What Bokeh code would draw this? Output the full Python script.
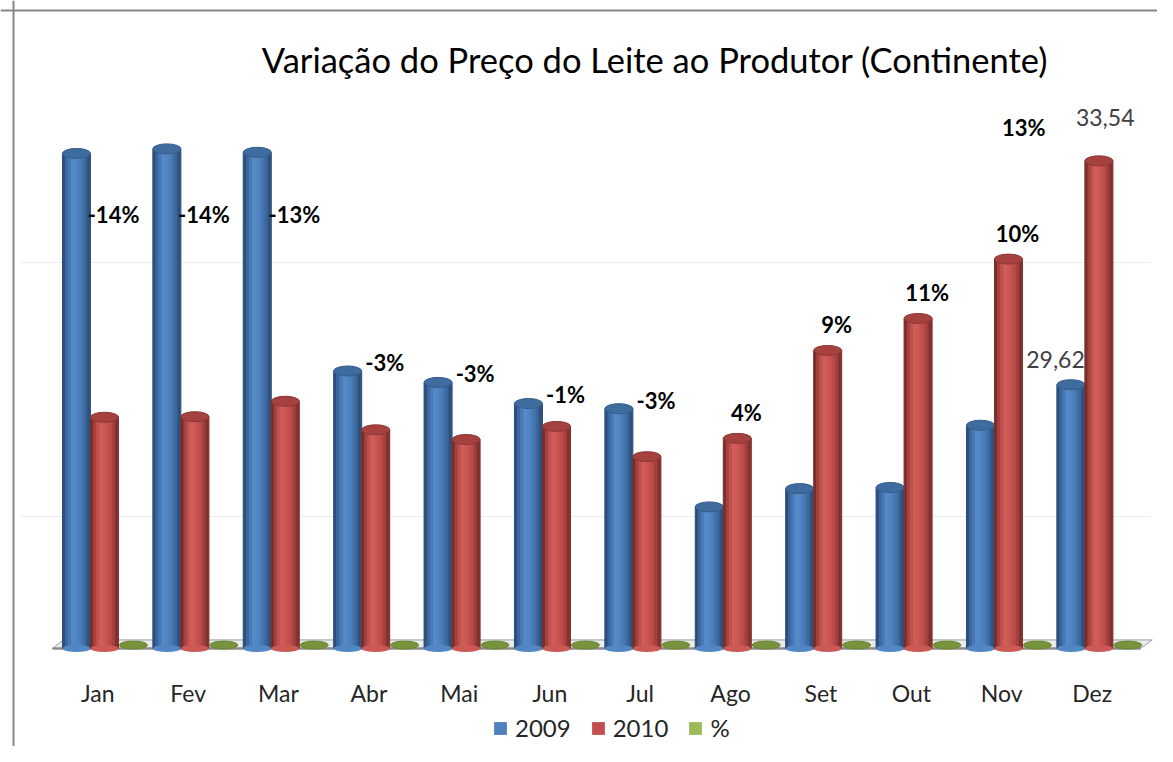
from bokeh.plotting import figure
from bokeh.models import Range1d, Legend, LegendItem, Span
from bokeh.core.properties import value
from bokeh.embed import file_html
from bokeh.resources import INLINE

# ---------------- data ----------------
months = ["Jan", "Fev", "Mar", "Abr", "Mai", "Jun", "Jul", "Ago", "Set", "Out", "Nov", "Dez"]
v2009 = [33.67, 33.75, 33.69, 29.86, 29.66, 29.29, 29.20, 27.48, 27.80, 27.82, 28.91, 29.62]
v2010 = [29.05, 29.06, 29.33, 28.83, 28.66, 28.89, 28.36, 28.68, 30.22, 30.78, 31.82, 33.54]
pct = [-14, -14, -13, -3, -3, -1, -3, 4, 9, 11, 10, 13]
value_labelled = ["Dez"]          # months whose 2009/2010 values are shown
series_names = ["2009", "2010", "%"]
title_text = "Variação do Preço do Leite ao Produtor (Continente)"

# ---------------- layout helpers (reference pixel -> data) ----------------
W, H = 1157, 746
PX_X, X0 = 90.4, 104.0
PX_Y, BASE_PX, BASE = 57.1, 648.0, 25.0
def rx(px): return (px - X0) / PX_X
def ry(py): return BASE + (BASE_PX - py) / PX_Y

p = figure(width=W, height=H, output_backend="svg", toolbar_location=None,
           x_range=Range1d(rx(0), rx(W)), y_range=Range1d(ry(H), ry(0)),
           min_border=0, min_border_left=0, min_border_right=0, min_border_top=0, min_border_bottom=0)
p.axis.visible = False
p.grid.visible = False
p.outline_line_color = None
p.background_fill_color = "white"

FONT = "Lato"
n = len(months)
cats = list(range(n))
BW = 0.31
OFFS = {"2009": -0.31, "2010": 0.0, "%": 0.32}

# border (left and top edges of the chart box)
p.add_layout(Span(location=rx(13), dimension="height", line_color="#878787", line_width=2))
p.add_layout(Span(location=ry(10), dimension="width", line_color="#878787", line_width=2))

# faint back-wall gridlines
for gy in (ry(262), ry(516)):
    p.segment(x0=[rx(20)], y0=[gy], x1=[rx(1150)], y1=[gy], line_color="#ededed", line_width=1)

# floor
L, R = cats[0] - 0.575, cats[-1] + 0.46
p.patch([L, R, R + 0.13, L + 0.12], [BASE, BASE, BASE + 0.15, BASE + 0.15],
        fill_color="#ececec", line_color="#9a9a9a", line_width=1)
p.segment(x0=[L], y0=[BASE], x1=[R], y1=[BASE], line_color="#8c8c8c", line_width=2.5)

# green % discs on the floor
p.ellipse(x=[c + OFFS["%"] for c in cats], y=[BASE + 0.06] * n, width=BW, height=8,
          height_units="screen", fill_color="#77933c", line_color="#6a8535", line_width=1)

def cylinder(vals, off, strip_colors, top_color, top_line):
    ns = len(strip_colors)
    sw = BW / ns
    for k, col in enumerate(strip_colors):
        xs = [c + off - BW / 2 + sw * (k + 0.5) for c in cats]
        p.vbar(x=xs, top=vals, bottom=BASE, width=sw, fill_color=col, line_color=col, line_width=1)
    p.ellipse(x=[c + off for c in cats], y=[BASE] * n, width=BW, height=7, height_units="screen",
              fill_color=strip_colors[ns // 2], line_color=None)
    p.ellipse(x=[c + off for c in cats], y=vals, width=BW, height=10, height_units="screen",
              fill_color=top_color, line_color=top_line, line_width=1)

blue_strips = ["#2d4e78", "#3c67a0", "#4979b6", "#5589c8", "#5287c6", "#4d7fbe", "#4575ad", "#3b6699", "#2e527f"]
red_strips = ["#7a2e2c", "#a4423f", "#c0514d", "#d05d59", "#cd5955", "#c6524f", "#b94b48", "#a3413e", "#83322f"]
cylinder(v2009, OFFS["2009"], blue_strips, "#3f6c9f", "#355d8c")
cylinder(v2010, OFFS["2010"], red_strips, "#a5413e", "#8e3735")

# percent labels
pct_x, pct_y = [], []
for i, c in enumerate(cats):
    top = max(v2009[i], v2010[i])
    if months[i] in value_labelled:
        pct_x.append(c - 0.83)
        pct_y.append(top + 0.58)
    else:
        pct_x.append(c + 0.1)
        pct_y.append(min(top + (0.15 if pct[i] < 0 else 0.45), 32.6))
p.text(x=pct_x, y=pct_y, text=[f"{v}%" for v in pct], text_align="center", text_baseline="middle",
       text_font=value(FONT), text_font_size="22px", text_font_style="bold", text_color="#000000")

# value labels
vx, vy, vt = [], [], []
for i, c in enumerate(cats):
    if months[i] in value_labelled:
        vx += [c + OFFS["2009"] - 0.17, c + OFFS["2010"] + 0.07]
        vy += [v2009[i] + 0.45, v2010[i] + 0.76]
        vt += [f"{v2009[i]:.2f}".replace(".", ","), f"{v2010[i]:.2f}".replace(".", ",")]
p.text(x=vx, y=vy, text=vt, text_align="center", text_baseline="middle",
       text_font=value(FONT), text_font_size="23px", text_color="#404040")

# month labels
p.text(x=[c - 0.075 for c in cats], y=[ry(692)] * n, text=months, text_align="center",
       text_baseline="middle", text_font=value(FONT), text_font_size="23px", text_color="#262626")

# title
p.text(x=[rx(654.5)], y=[ry(59)], text=[title_text], text_align="center", text_baseline="middle",
       text_font=value(FONT), text_font_size="34.5px", text_color="#000000")

# legend (zero-height bars carry the legend swatches)
lg_colors = ["#4f81bd", "#c0504d", "#9bbb59"]
items = []
for name, col in zip(series_names, lg_colors):
    r = p.vbar(x=[cats[0]], top=[BASE], bottom=[BASE], width=0.01, fill_color=col, line_color=None)
    items.append(LegendItem(label=name, renderers=[r]))
legend = Legend(items=items, orientation="horizontal", location=(492, 4),
                glyph_width=16, glyph_height=16, label_standoff=7, spacing=19, label_height=24,
                padding=0, margin=0, border_line_color=None, background_fill_alpha=0,
                label_text_font=FONT, label_text_font_size="24px", label_text_color="#262626")
p.add_layout(legend)

open("out.html", "w").write(file_html(p, INLINE))
